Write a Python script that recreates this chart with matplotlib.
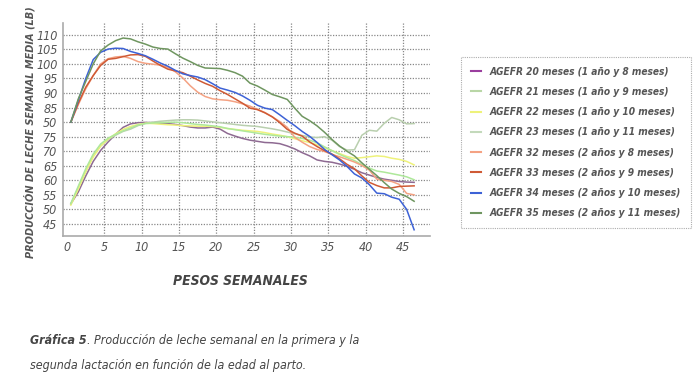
import matplotlib
matplotlib.use("Agg")
from matplotlib import pyplot as plt
from matplotlib import font_manager
import numpy as np

# pick a narrow face if one is around, the original uses a condensed italic
names = {(f.name, f.stretch) for f in font_manager.fontManager.ttflist}
stretch = 'normal'
if any(n == 'Liberation Sans Narrow' for n, s in names):
    fam = 'Liberation Sans Narrow'
elif ('DejaVu Sans', 'condensed') in names:
    fam, stretch = 'DejaVu Sans', 'condensed'
else:
    fam = 'Liberation Sans'
plt.rcParams['font.family'] = [fam, 'DejaVu Sans']
plt.rcParams['font.stretch'] = stretch

weeks = np.arange(47) + 0.5

agefr_20 = [51.9, 56, 61.5, 66.5, 70.3, 73.2, 75.8, 78.2, 79.4, 79.8, 79.9, 79.8, 79.6, 79.5, 79.2, 78.8,
            78.3, 78, 78, 78.3, 77.6, 76.1, 75.2, 74.4, 73.8, 73.4, 73, 72.9, 72.6, 71.8, 70.8, 69.5,
            68.4, 67, 66.5, 66.2, 65.6, 64.8, 63.8, 62.6, 61.8, 61, 60.4, 60, 59.6, 59.4, 59.3]
agefr_21 = [52, 57.5, 63, 68.5, 71.8, 74, 75.5, 76.8, 77.6, 78.8, 79.6, 80, 80.3, 80.5, 80.7, 80.8,
            80.8, 80.7, 80.4, 80.1, 79.8, 79.5, 79.2, 78.9, 78.7, 78.5, 78.1, 77.7, 77.2, 76.6, 76, 75.4,
            74.9, 74.7, 75, 73.8, 71.6, 70.4, 70.5, 75.5, 77.2, 76.9, 79.6, 81.6, 80.8, 79.4, 79.5]
agefr_22 = [51.5, 57, 63, 68, 71.8, 74.2, 76, 77.5, 78.5, 79.2, 79.6, 79.5, 79.3, 79.1, 79, 78.8,
            78.7, 78.6, 78.6, 78.5, 78.2, 77.8, 77.5, 77.2, 77, 76.8, 76.4, 75.9, 75.5, 75, 74.3, 73.6,
            73, 72.2, 71.2, 70.2, 69.2, 68.2, 67.6, 67.8, 68.1, 68.4, 68.2, 67.6, 67.2, 66.5, 65.3]
agefr_23 = [52, 58, 64, 69, 72.5, 74.5, 75.8, 77, 78, 79, 79.5, 79.7, 79.8, 79.9, 80, 79.8,
            79.5, 79.2, 79, 78.7, 78.4, 77.8, 77.4, 77, 76.6, 76.2, 75.8, 75.5, 75.2, 75, 74.8, 74.4,
            73.8, 72.9, 71.5, 70.2, 68.9, 67.8, 66.8, 65.4, 64.2, 63.2, 62.8, 62.3, 61.8, 61.2, 60.2]
agefr_32 = [80, 86, 91.5, 96, 100, 101.8, 102.4, 102.6, 101.9, 100.8, 100.2, 99.9, 99.6, 98.8, 97.3, 95.2,
            92.5, 90.3, 88.8, 88, 87.7, 87.5, 87, 86.3, 85.5, 84.4, 83.3, 81.8, 80.2, 78.2, 74.8, 73.1,
            71.6, 70.6, 69.9, 68.9, 68.1, 67.2, 66.3, 65.1, 63.5, 60.4, 60, 59.6, 58.6, 55.5, 55]
agefr_33 = [80, 86.5, 92, 96, 99.5, 101.6, 101.9, 102.5, 103.1, 103.2, 102.6, 101, 99.5, 98.2, 97.6, 97,
            95.8, 94.5, 93.3, 92.3, 90.8, 89.5, 88, 86.5, 84.8, 84.3, 83.2, 81.8, 79.8, 77.5, 76.2, 75.2,
            73.2, 71.6, 70.2, 69, 67.4, 65.5, 64, 61.5, 59.3, 58.2, 57.4, 57.4, 57.9, 58, 58.1]
agefr_34 = [80, 87.5, 95, 101.5, 104, 105.1, 105.4, 105.3, 104.3, 103.6, 102.8, 101.6, 100.3, 99.2, 97.8, 96.6,
            96, 95.5, 94.6, 93.2, 91.7, 91, 90.2, 89, 87.5, 85.8, 84.8, 84.3, 82.5, 80.6, 78.8, 76.8,
            75.1, 73, 70.6, 68.8, 67, 64.8, 62.2, 60.8, 58.5, 55.6, 55.4, 54.2, 53.5, 50, 43]
agefr_35 = [80, 88, 94, 100, 104.5, 106.5, 108, 108.9, 108.6, 107.6, 106.8, 105.8, 105.3, 105.1, 103.5, 102,
            100.8, 99.5, 98.6, 98.5, 98.4, 97.8, 97, 95.8, 93.4, 92.4, 91, 89.5, 88.7, 87.8, 84.8, 82,
            80.5, 78.7, 76.5, 74, 71.8, 70, 68.4, 66, 63.8, 61.6, 59.2, 57, 55.5, 54.4, 52.8]

series = [agefr_20, agefr_21, agefr_22, agefr_23, agefr_32, agefr_33, agefr_34, agefr_35]
labels = ['AGEFR 20 meses (1 año y 8 meses)', 'AGEFR 21 meses (1 año y 9 meses)',
          'AGEFR 22 meses (1 año y 10 meses)', 'AGEFR 23 meses (1 año y 11 meses)',
          'AGEFR 32 meses (2 años y 8 meses)', 'AGEFR 33 meses (2 años y 9 meses)',
          'AGEFR 34 meses (2 años y 10 meses)', 'AGEFR 35 meses (2 años y 11 meses)']
colors = ['#8e6a92', '#b9cfae', '#eef27a', '#aee89a', '#f4a283', '#cf5a35', '#3d62d6', '#6f9660']
legend_colors = ['#9a3e9e', '#b9d6a6', '#eef27a', '#c3d9bb', '#f4a283', '#cf5a35', '#3d62d6', '#6f9660']

xticks = [0, 5, 10, 15, 20, 25, 30, 35, 40, 45]
yticks = [45, 50, 55, 60, 65, 70, 75, 80, 85, 90, 95, 100, 105, 110]
ytick_labels = ['45', '50', '55', '60', '65', '70', '75', '50', '85', '90', '95', '100', '105', '110']

fig = plt.figure(figsize=(7, 3.88), dpi=100)
ax = fig.add_axes([0.09, 0.392, 0.524, 0.549])
r = fig.canvas.get_renderer()


def fit(t, px, size, horizontal=True):
    # shrink a text so its long side spans about px pixels
    t.set_fontsize(size)
    bb = t.get_window_extent(r)
    side = bb.width if horizontal else bb.height
    if side > px:
        t.set_fontsize(size * px / side)


for vals, c in zip(series, colors):
    ax.plot(weeks, vals, color=c, lw=1.1)

ax.set_xlim(-0.55, 48.6)
ax.set_ylim(40.9, 114.1)
ax.set_xticks(xticks)
ax.set_yticks(yticks)
ax.set_yticklabels(ytick_labels)
ax.tick_params(length=0, labelsize=9, labelcolor='#555555', pad=4)
for t in ax.get_xticklabels() + ax.get_yticklabels():
    t.set_style('italic')
ax.grid(True, color='#888888', ls=(0, (1, 1.2)), lw=0.9)
ax.xaxis.get_gridlines()[0].set_visible(False)
for s in ['top', 'right']:
    ax.spines[s].set_visible(False)
for s in ['left', 'bottom']:
    ax.spines[s].set_color('#aaaaaa')
    ax.spines[s].set_linewidth(1.2)

yl = fig.text(30 / 700, 1 - 132 / 388, 'PRODUCCIÓN DE LECHE SEMANAL MEDIA (LB)', fontweight='bold',
              style='italic', color='#555555', rotation=90, ha='center', va='center')
fit(yl, 252, 11, horizontal=False)
xl = fig.text(240 / 700, 1 - 281 / 388, 'PESOS SEMANALES', fontweight='bold', style='italic',
              color='#444444', ha='center', va='center')
fit(xl, 135, 12)

# legend font sized so the longest entry is about as wide as in the original
probe = fig.text(0, 0, labels[-1], fontweight='bold', style='italic')
fit(probe, 192, 9.5)
leg_size = probe.get_fontsize()
probe.remove()

handles = [plt.Line2D([], [], color=c, lw=1.5) for c in legend_colors]
leg = fig.legend(handles, labels, loc='upper left', bbox_to_anchor=(456 / 700, 1 - 52 / 388),
                 frameon=True, fontsize=leg_size, handlelength=1.0, handletextpad=0.9,
                 labelspacing=0.82 * 9 / leg_size, borderpad=0.95, fancybox=False)
leg.get_frame().set_edgecolor('#999999')
leg.get_frame().set_linestyle((0, (1, 1)))
leg.get_frame().set_linewidth(0.8)
for t in leg.get_texts():
    t.set_color('#555555')
    t.set_fontweight('bold')
    t.set_style('italic')

# caption, bold lead-in then plain italic
cap = fig.text(30 / 700, 1 - 344 / 388, 'Gráfica 5', fontweight='bold', style='italic',
               color='#444444', va='baseline')
line2 = fig.text(30 / 700, 1 - 369 / 388, 'segunda lactación en función de la edad al parto.',
                 style='italic', color='#444444', va='baseline')
fit(line2, 276, 11)
cap.set_fontsize(line2.get_fontsize())
bb = cap.get_window_extent(r)
fig.text(bb.x1 / fig.bbox.width, 1 - 344 / 388, '. Producción de leche semanal en la primera y la',
         fontsize=line2.get_fontsize(), style='italic', color='#444444', va='baseline')

fig.savefig('out.png', dpi=100, facecolor='white')
